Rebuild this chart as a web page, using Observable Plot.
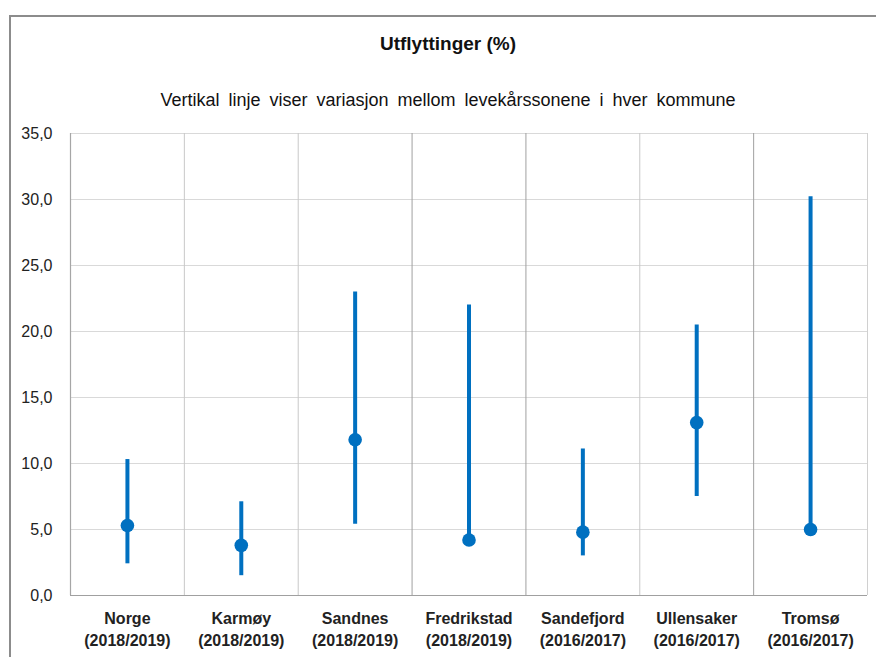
<!DOCTYPE html>
<html>
<head>
<meta charset="utf-8">
<script src="https://cdn.jsdelivr.net/npm/d3@7"></script>
<script src="https://cdn.jsdelivr.net/npm/@observablehq/plot@0.6"></script>
<style>
  html, body { margin: 0; padding: 0; background: #fff; overflow: hidden; }
  body { width: 876px; height: 657px; position: relative; font-family: "Liberation Sans Narrow", "Arial Narrow", "Liberation Sans", Arial, sans-serif; color: #111; }
  #frame { position: absolute; left: 9px; top: 15px; width: 900px; height: 700px; border: 2px solid #8c8c8c; box-sizing: border-box; z-index: 2; pointer-events: none; }
  #title { position: absolute; left: 0; width: 896px; top: 33px; text-align: center; font-size: 19px; font-weight: bold; white-space: nowrap; }
  #subtitle { position: absolute; left: 0; width: 896px; top: 90px; text-align: center; font-size: 18px; word-spacing: 4px; white-space: nowrap; }
  #chart { position: absolute; left: 0; top: 120px; }
</style>
</head>
<body>
<div id="frame"></div>
<div id="title">Utflyttinger (%)</div>
<div id="subtitle">Vertikal linje viser variasjon mellom levekårssonene i hver kommune</div>
<div id="chart"></div>
<script>
const categories = ["Norge", "Karmøy", "Sandnes", "Fredrikstad", "Sandefjord", "Ullensaker", "Tromsø"];
const periods = ["(2018/2019)", "(2018/2019)", "(2018/2019)", "(2018/2019)", "(2016/2017)", "(2016/2017)", "(2016/2017)"];
const lowValues = [2.4, 1.5, 5.4, 4.1, 3.0, 7.5, 4.9];
const highValues = [10.3, 7.1, 23.0, 22.0, 11.1, 20.5, 30.2];
const pointValues = [5.3, 3.8, 11.8, 4.2, 4.8, 13.1, 5.0];
const yTicks = [0, 5, 10, 15, 20, 25, 30, 35];

const data = categories.map((c, i) => ({
  name: c, period: periods[i], low: lowValues[i], high: highValues[i], value: pointValues[i]
}));

const W = 876, H = 537, ML = 70, MR = 9, MT = 13, MB = 62;
const bw = (W - ML - MR) / categories.length;
const darkSeps = new Set(["Fredrikstad", "Sandefjord", "Tromsø"]);
const blue = "#0070c0";
const fmt = d => d.toFixed(1).replace(".", ",");
const font = "'Liberation Sans Narrow', 'Arial Narrow', 'Liberation Sans', Arial, sans-serif";

const chart = Plot.plot({
  width: W, height: H,
  marginLeft: ML, marginRight: MR, marginTop: MT, marginBottom: MB,
  style: { fontFamily: font, background: "none", color: "#222", overflow: "visible" },
  x: { type: "band", domain: categories, padding: 0, round: false, axis: null },
  y: { domain: [0, 35], axis: null },
  marks: [
    Plot.ruleY(yTicks.filter(d => d > 0), { y: d => d, stroke: "#d9d9d9", strokeWidth: 1 }),
    Plot.ruleX(categories.slice(1), { x: d => d, dx: -bw / 2, stroke: d => darkSeps.has(d) ? "#a0a0a0" : "#c8c8c8", strokeWidth: 1 }),
    Plot.ruleX(categories.slice(-1), { x: d => d, dx: bw / 2, stroke: "#d0d0d0", strokeWidth: 1 }),
    Plot.ruleX(categories.slice(0, 1), { x: d => d, dx: -bw / 2, stroke: "#a6a6a6", strokeWidth: 1.2 }),
    Plot.ruleY([0], { y: d => d, stroke: "#a0a0a0", strokeWidth: 1.2 }),
    Plot.text(yTicks, { y: d => d, text: d => fmt(d), frameAnchor: "left", dx: -18, textAnchor: "end", fontSize: 16, fill: "#222" }),
    Plot.text(data, {
      x: "name", text: d => d.name + "\n" + d.period, frameAnchor: "bottom", lineAnchor: "top",
      dy: 13, lineHeight: 1.375, fontSize: 16, fontWeight: "bold", fill: "#222"
    }),
    Plot.ruleX(data, { x: "name", y1: "low", y2: "high", stroke: blue, strokeWidth: 4 }),
    Plot.dot(data, { x: "name", y: "value", r: 6.8, fill: blue, stroke: "none" })
  ]
});
document.getElementById("chart").appendChild(chart);
</script>
</body>
</html>
